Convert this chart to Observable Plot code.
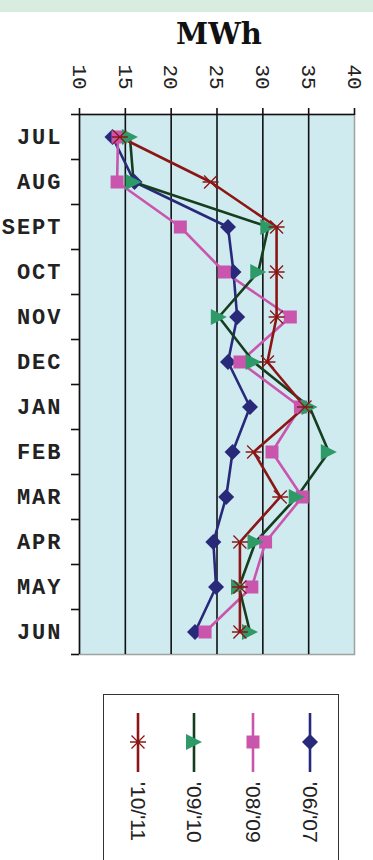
<!DOCTYPE html>
<html>
<head>
<meta charset="utf-8">
<script src="https://cdn.jsdelivr.net/npm/d3@7"></script>
<script src="https://cdn.jsdelivr.net/npm/@observablehq/plot@0.6"></script>
<style>
  html, body { margin: 0; padding: 0; background: #fff; }
  body { width: 373px; height: 860px; position: relative; overflow: hidden; }
  #band { position: absolute; left: 0; top: 0; width: 373px; height: 12px; background: #d8ece0; }
  #title { position: absolute; left: 0; width: 438px; top: 17px; text-align: center;
           font-family: "DejaVu Serif", serif; font-weight: bold; font-size: 29px; color: #111; }
  #chart { position: absolute; left: 0; top: 0; }
  #chart svg text { font-family: "Liberation Mono", "Courier New", monospace; }
  #chart svg g.mlab text { font-weight: bold; letter-spacing: 2px; }
  #legend { position: absolute; left: 103px; top: 694px; width: 234px; height: 200px;
            border: 1.5px solid #333; background: #fff; }
</style>
</head>
<body>
<div id="band"></div>
<div id="title">MWh</div>
<div id="chart"></div>
<div id="legend"></div>
<script>
// ---- data ----
const months = ["JUL","AUG","SEPT","OCT","NOV","DEC","JAN","FEB","MAR","APR","MAY","JUN"];
const seriesNames = ["'06/'07","'08/'09","'09/'10","'10/'11"];
const v0607 = [13.6, 16.0, 26.2, 26.8, 27.2, 26.2, 28.6, 26.7, 26.0, 24.6, 24.9, 22.6];
const v0809 = [14.2, 14.1, 21.0, 25.8, 33.0, 27.5, 34.1, 31.0, 34.3, 30.3, 28.8, 23.7];
const v0910 = [15.5, 15.9, 30.6, 29.5, 25.2, 29.0, 35.1, 37.2, 33.7, 29.2, 27.4, 28.6];
const v1011 = [14.4, 24.3, 31.5, 31.5, 31.5, 30.5, 34.6, 29.0, 31.9, 27.5, 27.5, 27.5];
const xTicks = [10, 15, 20, 25, 30, 35, 40];
const legendOrder = ["'10/'11","'09/'10","'08/'09","'06/'07"];

// ---- styling ----
const lineColor = {"'06/'07": "#29297a", "'08/'09": "#c955ad", "'09/'10": "#163e1e", "'10/'11": "#8c1616"};
const markColor = {"'06/'07": "#29297a", "'08/'09": "#c955ad", "'09/'10": "#2e9a68", "'10/'11": "#8c1616"};

const diamond = {draw(c, s) { const r = 8; c.moveTo(0,-r); c.lineTo(r,0); c.lineTo(0,r); c.lineTo(-r,0); c.closePath(); }};
const square = {draw(c, s) { const r = 6.5; c.moveTo(-r,-r); c.lineTo(r,-r); c.lineTo(r,r); c.lineTo(-r,r); c.closePath(); }};
const triRight = {draw(c, s) { const r = 8; c.moveTo(-r,-r); c.lineTo(r,0); c.lineTo(-r,r); c.closePath(); }};
const star = {draw(c, s) { const r = 8, d = 6.5;
  c.moveTo(-r,0); c.lineTo(r,0);
  c.moveTo(-d,-d); c.lineTo(d,d);
  c.moveTo(-d,d); c.lineTo(d,-d); }};
const symbolOf = {"'06/'07": diamond, "'08/'09": square, "'09/'10": triRight, "'10/'11": star};

const valuesOf = {"'06/'07": v0607, "'08/'09": v0809, "'09/'10": v0910, "'10/'11": v1011};
const rows = seriesNames.flatMap(s => months.map((m, i) => ({series: s, month: m, i, value: valuesOf[s][i]})));

const marks = [
  Plot.frame({fill: "#cfebf0", stroke: "#a0a0a0", strokeWidth: 1.5}),
  Plot.ruleX([15, 20, 25, 30, 35], {stroke: "#111", strokeWidth: 1.6}),
  Plot.ruleX([10], {stroke: "#111", strokeWidth: 1.6}),
  Plot.ruleY([0], {stroke: "#111", strokeWidth: 1.6}),
  Plot.axisX({anchor: "top", ticks: xTicks, tickSize: 7, tickFormat: () => "", label: null, stroke: "#111", strokeWidth: 1.6}),
  Plot.text(xTicks, {x: d => d, text: d => String(d), frameAnchor: "top", dy: -50, rotate: 90,
    textAnchor: "start", lineAnchor: "middle", fontSize: 21, fill: "#222"}),
  Plot.axisY({ticks: d3.range(13), tickSize: 8, tickFormat: () => "", label: null, stroke: "#111", strokeWidth: 1.6}),
  Plot.axisY({ticks: d3.range(12).map(i => i + 0.5), tickFormat: v => months[Math.floor(v)], tickSize: 0,
    tickPadding: 17, label: null, fontSize: 22, fill: "#222", className: "mlab"})
];
for (const s of seriesNames) {
  const data = rows.filter(r => r.series === s);
  marks.push(Plot.line(data, {x: "value", y: d => d.i + 0.5, stroke: lineColor[s], strokeWidth: 2.6}));
}
for (const s of seriesNames) {
  const data = rows.filter(r => r.series === s);
  if (s === "'10/'11") {
    marks.push(Plot.dot(data, {x: "value", y: d => d.i + 0.5, symbol: symbolOf[s], r: 8, fill: "none", stroke: markColor[s], strokeWidth: 1.3}));
  } else {
    marks.push(Plot.dot(data, {x: "value", y: d => d.i + 0.5, symbol: symbolOf[s], r: 8, fill: markColor[s], stroke: "none"}));
  }
}

const chart = Plot.plot({
  width: 373,
  height: 660,
  marginTop: 114,
  marginBottom: 6,
  marginLeft: 79,
  marginRight: 19,
  x: {domain: [10, 40]},
  y: {domain: [0, 12], reverse: true},
  style: {background: "transparent", overflow: "visible", fontFamily: "Liberation Mono"},
  marks
});
document.getElementById("chart").appendChild(chart);

// ---- legend ----
const lg = d3.select("#legend").append("svg").attr("width", 234).attr("height", 200).style("overflow", "visible");
const xs = [34, 90, 149, 206];
legendOrder.forEach((s, k) => {
  const g = lg.append("g").attr("transform", `translate(${xs[k]},0)`);
  g.append("line").attr("x1", 0).attr("x2", 0).attr("y1", 18).attr("y2", 77)
    .attr("stroke", lineColor[s]).attr("stroke-width", 2.6);
  const p = d3.symbol().type(symbolOf[s])();
  if (s === "'10/'11") {
    g.append("path").attr("d", p).attr("transform", "translate(0,47)").attr("fill", "none")
      .attr("stroke", markColor[s]).attr("stroke-width", 1.3);
  } else {
    g.append("path").attr("d", p).attr("transform", "translate(0,47)").attr("fill", markColor[s]);
  }
  g.append("text").attr("transform", "translate(0,87) rotate(90)").attr("dy", "0.35em")
    .attr("font-family", "Liberation Sans").attr("font-size", 21).attr("fill", "#222").text(s);
});
</script>
</body>
</html>
